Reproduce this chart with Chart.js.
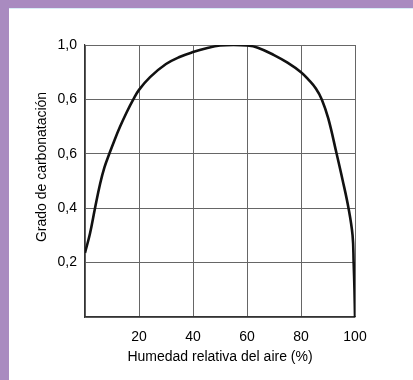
<!DOCTYPE html>
<html>
<head>
<meta charset="utf-8">
<script src="https://cdn.jsdelivr.net/npm/chart.js@4"></script>
<style>
    body { margin: 0; background: #a98bc0; }
    .panel {
        position: absolute; left: 9px; top: 8px; width: 404px; height: 372px;
        background: #fff; border-top: 1px solid #d8eef6;
    }
    #myChart { position: absolute; left: 0; top: 0; }
</style>
</head>
<body>
<div class="panel"></div>
<canvas id="myChart" width="413" height="380"></canvas>
<script>
// humedad relativa (%) y grado de carbonatacion
const humedad = [0, 1.85, 3.7, 5.6, 7.2, 9, 11, 13, 15.4, 17.9, 20, 24.1, 30, 35, 40, 45, 50, 55, 60, 64, 70, 75, 80, 83, 85.5, 87.7, 90.1, 93.2, 95.4, 97.6, 99.1, 99.5, 99.8, 100];
const grado = [0.236, 0.307, 0.4, 0.49, 0.55, 0.6, 0.652, 0.7, 0.752, 0.8, 0.835, 0.882, 0.93, 0.956, 0.974, 0.988, 0.998, 1.0, 0.998, 0.99, 0.963, 0.935, 0.9, 0.87, 0.84, 0.8, 0.73, 0.6, 0.504, 0.4, 0.3, 0.2, 0.1, 0];
const yTickValues = [0.2, 0.4, 0.6, 0.8, 1.0];
const yTickLabels = ["0,2", "0,4", "0,6", "0,6", "1,0"];
const xTickValues = [20, 40, 60, 80, 100];
const xTickLabels = ["20", "40", "60", "80", "100"];
const yTitle = "Grado de carbonatación";
const xTitle = "Humedad relativa del aire (%)";

const points = humedad.map((h, i) => ({ x: h, y: grado[i] }));
const font = { family: "'Liberation Sans', Arial, sans-serif", size: 14 };

// y title drawn a bit above the middle, like the printed figure
const yTitlePlugin = {
    id: "yTitle",
    afterDraw(chart) {
        const c = chart.ctx;
        c.save();
        c.translate(42, 167);
        c.rotate(-Math.PI / 2);
        c.font = "14px 'Liberation Sans', Arial, sans-serif";
        c.fillStyle = "#000";
        c.textAlign = "center";
        c.textBaseline = "middle";
        c.fillText(yTitle, 0, 0);
        c.restore();
    },
};

let ctx = document.getElementById("myChart").getContext("2d");
var myChart = new Chart(ctx, {
    type: "line",
    data: {
        datasets: [
            {
                data: points,
                borderColor: "#111",
                borderWidth: 2.6,
                pointRadius: 0,
                tension: 0.4,
                fill: false,
            },
        ],
    },
    plugins: [yTitlePlugin],
    options: {
        responsive: false,
        animation: false,
        layout: { padding: { left: 30, right: 58, top: 45, bottom: 10 } },
        plugins: { legend: { display: false }, tooltip: { enabled: false } },
        scales: {
            x: {
                type: "linear",
                min: 0,
                max: 100,
                afterFit: (scale) => { scale.height = 53; },
                afterBuildTicks: (scale) => {
                    scale.ticks = [0].concat(xTickValues).map((v) => ({ value: v }));
                },
                ticks: {
                    color: "#000",
                    font: font,
                    padding: 12,
                    callback: (v) => {
                        const i = xTickValues.indexOf(v);
                        return i < 0 ? "" : xTickLabels[i];
                    },
                },
                grid: { color: "#666", lineWidth: 1, drawTicks: false },
                border: { color: "#333", width: 1.2 },
                title: {
                    display: true,
                    text: xTitle,
                    color: "#000",
                    font: font,
                    padding: { top: 4 },
                },
            },
            y: {
                min: 0,
                max: 1,
                afterFit: (scale) => { scale.width = 55; },
                afterBuildTicks: (scale) => {
                    scale.ticks = [0].concat(yTickValues).map((v) => ({ value: v }));
                },
                ticks: {
                    color: "#000",
                    font: font,
                    padding: 8,
                    callback: (v) => {
                        const i = yTickValues.findIndex((t) => Math.abs(t - v) < 1e-6);
                        return i < 0 ? "" : yTickLabels[i];
                    },
                },
                grid: { color: "#666", lineWidth: 1, drawTicks: false },
                border: { color: "#333", width: 1.2 },
            },
        },
    },
});
</script>
</body>
</html>
